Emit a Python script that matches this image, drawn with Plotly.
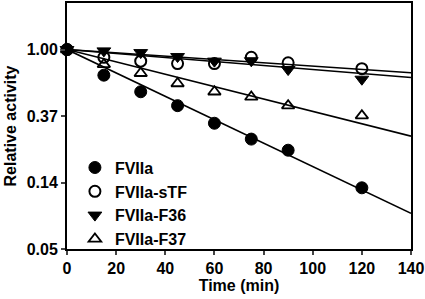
import numpy as np
import plotly.graph_objects as go

time = [0, 15, 30, 45, 60, 75, 90, 120]
fviia = [1.00, 0.68, 0.53, 0.43, 0.33, 0.26, 0.22, 0.125]
fviia_stf = [1.00, 0.89, 0.84, 0.81, 0.81, 0.89, 0.82, 0.75]
fviia_f36 = [1.00, 0.98, 0.955, 0.90, 0.84, 0.845, 0.74, 0.64]
fviia_f37 = [1.00, 0.80, 0.70, 0.60, 0.53, 0.49, 0.43, 0.37]

# fitted first-order decay rates (1/min)
k_fviia = -0.0176
k_stf = -0.0025
k_f36 = -0.0030
k_f37 = -0.0093

fit_t = [0, 140]
ytickvals = [np.exp(-3), np.exp(-2), np.exp(-1), 1.0]
yticktext = ["0.05", "0.14", "0.37", "1.00"]
xtickvals = [0, 20, 40, 60, 80, 100, 120, 140]

series = [
    ("FVIIa", fviia, k_fviia, dict(symbol="circle", size=12, color="black", line=dict(color="black", width=1))),
    ("FVIIa-sTF", fviia_stf, k_stf, dict(symbol="circle-open", size=11, color="black", line=dict(color="black", width=2))),
    ("FVIIa-F36", fviia_f36, k_f36, dict(symbol="triangle-down", size=12, color="black", line=dict(color="black", width=1))),
    ("FVIIa-F37", fviia_f37, k_f37, dict(symbol="triangle-up-open", size=11, color="black", line=dict(color="black", width=1.8))),
]

fig = go.Figure()
for name, vals, k, mk in series:
    fig.add_trace(go.Scatter(x=fit_t, y=[float(np.exp(k * t)) for t in fit_t], mode="lines",
                             line=dict(color="black", width=1.6), showlegend=False, hoverinfo="skip"))
for name, vals, k, mk in series:
    fig.add_trace(go.Scatter(x=time, y=vals, mode="markers", name=name, marker=mk, cliponaxis=False))

font = dict(family="Liberation Sans, Arial, sans-serif", size=16, color="black", weight="bold")
fig.update_layout(
    width=425, height=299,
    margin=dict(l=67, r=14, t=1, b=50),
    paper_bgcolor="white", plot_bgcolor="white",
    font=font,
    showlegend=True,
    legend=dict(x=0.023, y=0.40, xanchor="left", yanchor="top", bgcolor="rgba(0,0,0,0)",
                font=font, tracegroupgap=0, itemsizing="trace"),
    xaxis=dict(range=[0, 140], tickvals=xtickvals, ticks="outside", ticklen=4, tickwidth=1.5,
               showline=True, linecolor="black", linewidth=2, mirror=True, showgrid=False, zeroline=False,
               title=dict(text="Time (min)", font=font, standoff=4), tickfont=font),
    yaxis=dict(type="log", range=[np.log10(np.exp(-3)), np.log10(np.exp(0.70))],
               tickvals=ytickvals, ticktext=yticktext, ticks="outside", ticklen=4, tickwidth=1.5,
               showline=True, linecolor="black", linewidth=2, mirror=True, showgrid=False, zeroline=False,
               title=dict(text="Relative activity", font=font, standoff=6), tickfont=font),
)

fig.write_html("out.html", config={"displayModeBar": False},
               post_script="document.body.style.margin='0';")
